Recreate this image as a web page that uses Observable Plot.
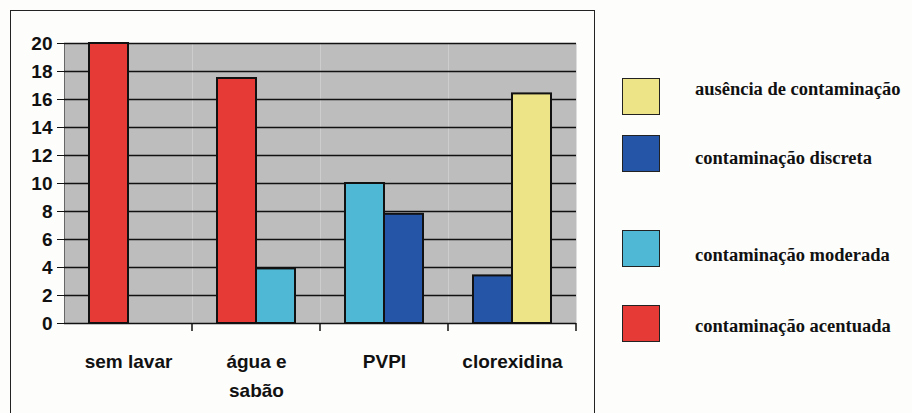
<!DOCTYPE html>
<html>
<head>
<meta charset="utf-8">
<script src="https://cdn.jsdelivr.net/npm/d3@7"></script>
<script src="https://cdn.jsdelivr.net/npm/@observablehq/plot@0.6"></script>
<style>
  body { margin: 0; background: #fdfdfc; }
  #wrap { position: relative; width: 912px; height: 413px; overflow: hidden; }
  #box { position: absolute; left: 10px; top: 10px; width: 583px; height: 430px; border: 1.5px solid #222; }
  #chart { position: absolute; left: 0; top: 0; }
  .sw { position: absolute; left: 622px; width: 36px; height: 35px; border: 1.5px solid #222; }
  .lt { position: absolute; left: 695px; font-family: "Liberation Serif", "DejaVu Serif Condensed", "DejaVu Serif", serif; font-stretch: condensed; font-weight: bold; font-size: 18.5px; color: #111; line-height: 20px; white-space: nowrap; }
</style>
</head>
<body>
<div id="wrap">
  <div id="box"></div>
  <div id="chart"></div>
  <div id="legend"></div>
</div>
<script>
// ---- data ----
const categories = ["sem lavar", "água e sabão", "PVPI", "clorexidina"];
const categoryLabels = ["sem lavar", "água e\nsabão", "PVPI", "clorexidina"];
const series = ["ausência de contaminação", "contaminação discreta", "contaminação moderada", "contaminação acentuada"];
const ausencia  = [0, 0, 0, 16.4];
const discreta  = [0, 0, 7.8, 3.4];
const moderada  = [0, 3.9, 10, 0];
const acentuada = [20, 17.5, 0, 0];
const yTicks = [0, 2, 4, 6, 8, 10, 12, 14, 16, 18, 20];
const colors = ["#ece486", "#2455a6", "#4fb8d4", "#e53a35"];

// ---- table ----
const valuesBySeries = {
  "ausência de contaminação": ausencia,
  "contaminação discreta": discreta,
  "contaminação moderada": moderada,
  "contaminação acentuada": acentuada
};
const barOrder = series.slice().reverse();
const rows = [];
categories.forEach((c, i) => {
  let slot = 0;
  barOrder.forEach(s => {
    const v = valuesBySeries[s][i];
    if (v > 0) rows.push({category: c, series: s, value: v, slot: String(slot++)});
  });
});

const svgns = "http://www.w3.org/2000/svg";
// small category-separator tick under the baseline, at the right edge of each facet
function boundaryTick(index, scales, values, dimensions) {
  const g = document.createElementNS(svgns, "g");
  const r = scales.x.range();
  const y0 = scales.y(0);
  const l = document.createElementNS(svgns, "line");
  l.setAttribute("x1", r[1]); l.setAttribute("x2", r[1]);
  l.setAttribute("y1", y0); l.setAttribute("y2", y0 + 8);
  l.setAttribute("stroke", "#111"); l.setAttribute("stroke-width", 1.5);
  g.appendChild(l);
  return g;
}

const fxFormat = d => categoryLabels[categories.indexOf(d)];
const hasAxisFx = typeof Plot.axisFx === "function";

const marks = [
  Plot.frame({fill: "#bdbdbd", stroke: null}),
  Plot.ruleY(yTicks, {stroke: "#111", strokeWidth: 1.5}),
  Plot.barY(rows, {x: "slot", y: "value", fill: "series", stroke: "#111", strokeWidth: 2}),
  boundaryTick
];
if (hasAxisFx) {
  marks.push(Plot.axisFx({anchor: "bottom", tickSize: 0, tickPadding: 24, lineHeight: 1.53, label: null, tickFormat: fxFormat}));
}

const chart = Plot.plot({
  width: 600,
  height: 413,
  marginLeft: 64,
  marginRight: 24,
  marginTop: 43,
  marginBottom: 90,
  style: {fontFamily: "'Liberation Sans', Arial, sans-serif", fontWeight: "bold", fontSize: "19px", color: "#111", background: "transparent", overflow: "visible"},
  facet: {data: rows, x: "category"},
  fx: Object.assign({domain: categories, padding: 0, label: null},
        hasAxisFx ? {} : {axis: "bottom", tickSize: 0, tickPadding: 24, tickFormat: fxFormat}),
  x: {domain: ["0", "1"], paddingInner: 0, paddingOuter: 0.64, axis: null},
  y: {domain: [0, 20], ticks: yTicks, tickSize: 7, tickPadding: 5, label: null, line: true},
  color: {domain: series, range: colors},
  marks
});
document.getElementById("chart").appendChild(chart);

// ---- legend ----
const swatchTops = [78, 135, 230, 305];
const textTops = [79, 148, 245, 316];
const legend = document.getElementById("legend");
series.forEach((s, i) => {
  const sw = document.createElement("div");
  sw.className = "sw";
  sw.style.top = swatchTops[i] + "px";
  sw.style.background = colors[i];
  legend.appendChild(sw);
  const t = document.createElement("div");
  t.className = "lt";
  t.style.top = textTops[i] + "px";
  t.textContent = s;
  legend.appendChild(t);
});
</script>
</body>
</html>
